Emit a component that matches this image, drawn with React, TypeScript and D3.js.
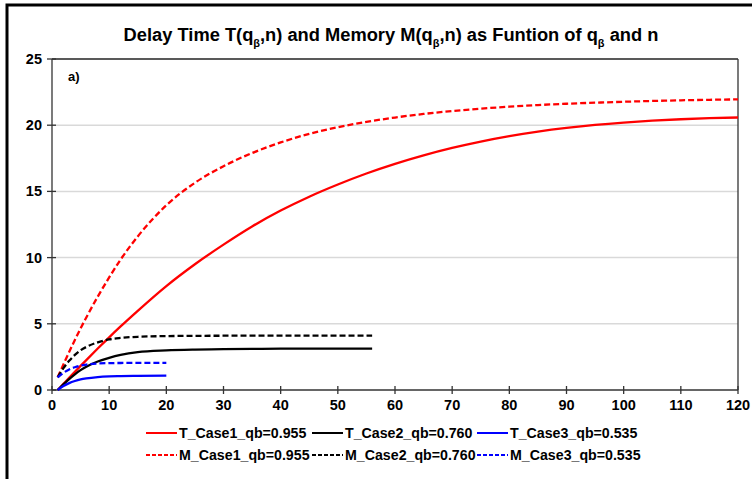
import React from "react";
import * as d3 from "d3";

// n values and series
const nLong = [1, 2, 3, 4, 5, 6, 8, 10, 12, 15, 20, 25, 30, 35, 40, 45, 50, 55, 60, 65, 70, 75, 80, 85, 90, 95, 100, 105, 110, 115, 120];
const tCase1 = [0, 0.46, 0.92, 1.37, 1.82, 2.26, 3.13, 3.98, 4.8, 5.98, 7.85, 9.5, 10.98, 12.35, 13.55, 14.6, 15.52, 16.35, 17.08, 17.72, 18.28, 18.76, 19.17, 19.51, 19.79, 20.02, 20.2, 20.34, 20.45, 20.53, 20.58];
const mCase1 = [0.97, 1.93, 2.87, 3.78, 4.65, 5.48, 7.05, 8.5, 9.85, 11.6, 13.95, 15.65, 16.9, 17.9, 18.7, 19.35, 19.85, 20.25, 20.58, 20.85, 21.07, 21.25, 21.4, 21.52, 21.62, 21.7, 21.77, 21.83, 21.88, 21.92, 21.95];

const nMid = [1, 2, 3, 4, 5, 6, 8, 10, 12, 15, 20, 25, 30, 35, 40, 45, 50, 56];
const tCase2 = [0, 0.42, 0.82, 1.18, 1.5, 1.76, 2.15, 2.43, 2.65, 2.86, 2.99, 3.05, 3.08, 3.1, 3.12, 3.13, 3.13, 3.13];
const mCase2 = [0.95, 1.65, 2.2, 2.65, 3.0, 3.25, 3.6, 3.82, 3.93, 4.02, 4.07, 4.09, 4.1, 4.11, 4.11, 4.11, 4.11, 4.11];

const nShort = [1, 2, 3, 4, 5, 6, 8, 10, 12, 15, 20];
const tCase3 = [0, 0.3, 0.52, 0.68, 0.8, 0.88, 0.98, 1.03, 1.05, 1.07, 1.08];
const mCase3 = [0.95, 1.3, 1.55, 1.72, 1.84, 1.92, 2.0, 2.03, 2.04, 2.05, 2.05];

const xTicks = [0, 10, 20, 30, 40, 50, 60, 70, 80, 90, 100, 110, 120];
const yTicks = [0, 5, 10, 15, 20, 25];

const series = [
  { name: "T_Case1_qb=0.955", n: nLong, v: tCase1, color: "#ff0000", dashed: false },
  { name: "T_Case2_qb=0.760", n: nMid, v: tCase2, color: "#000000", dashed: false },
  { name: "T_Case3_qb=0.535", n: nShort, v: tCase3, color: "#0000ff", dashed: false },
  { name: "M_Case1_qb=0.955", n: nLong, v: mCase1, color: "#ff0000", dashed: true },
  { name: "M_Case2_qb=0.760", n: nMid, v: mCase2, color: "#000000", dashed: true },
  { name: "M_Case3_qb=0.535", n: nShort, v: mCase3, color: "#0000ff", dashed: true },
];

const W = 752;
const H = 479;
const plot = { left: 52, right: 738, top: 59, bottom: 390 };
const font = "'Liberation Sans', Arial, sans-serif";

export default function App() {
  const x = d3.scaleLinear().domain([0, 120]).range([plot.left, plot.right]);
  const y = d3.scaleLinear().domain([0, 25]).range([plot.bottom, plot.top]);

  const line = d3
    .line<[number, number]>()
    .x((d) => x(d[0]))
    .y((d) => y(d[1]))
    .curve(d3.curveMonotoneX);

  const legendCols = [146, 312, 477];
  const legendRows = [433, 455];

  const sub = (
    <tspan baselineShift="sub" fontSize="11">
      β
    </tspan>
  );

  return (
    <svg
      width={W}
      height={H}
      style={{ position: "absolute", left: 0, top: 0, background: "#fff" }}
      fontFamily={font}
    >
      <rect x={0} y={0} width={W} height={H} fill="#fff" />
      {/* outer frame */}
      <rect x={7} y={5} width={W + 20} height={H + 20} fill="none" stroke="#000" strokeWidth={3} />

      {/* title */}
      <text x={391} y={41} textAnchor="middle" fontSize={18.3} fontWeight="bold" fill="#000">
        Delay Time T(q{sub}
        <tspan>,n) and Memory M(q</tspan>
        {sub}
        <tspan>,n) as Funtion of q</tspan>
        {sub}
        <tspan> and n</tspan>
      </text>

      {/* gridlines */}
      {yTicks.slice(1, -1).map((t) => (
        <line key={t} x1={plot.left} x2={plot.right} y1={y(t)} y2={y(t)} stroke="#d9d9d9" strokeWidth={1.5} />
      ))}
      {/* plot border top/right */}
      <line x1={plot.left} x2={plot.right} y1={plot.top} y2={plot.top} stroke="#222" strokeWidth={1.3} />
      <line x1={plot.right} x2={plot.right} y1={plot.top} y2={plot.bottom} stroke="#333" strokeWidth={1.3} />

      {/* axes */}
      <line x1={plot.left} x2={plot.left} y1={plot.top} y2={plot.bottom} stroke="#333" strokeWidth={1.3} />
      <line x1={plot.left} x2={plot.right} y1={plot.bottom} y2={plot.bottom} stroke="#333" strokeWidth={1.3} />
      {yTicks.map((t) => (
        <g key={t}>
          <line x1={plot.left - 5} x2={plot.left + 4} y1={y(t)} y2={y(t)} stroke="#333" strokeWidth={1.3} />
          <text x={plot.left - 10} y={y(t) + 5} textAnchor="end" fontSize={14.5} fontWeight="bold">
            {t}
          </text>
        </g>
      ))}
      {xTicks.map((t) => (
        <g key={t}>
          <line x1={x(t)} x2={x(t)} y1={plot.bottom - 4} y2={plot.bottom + 4} stroke="#333" strokeWidth={1.3} />
          <text x={x(t)} y={plot.bottom + 20} textAnchor="middle" fontSize={14.5} fontWeight="bold">
            {t}
          </text>
        </g>
      ))}

      <text x={68} y={81} fontSize={13} fontWeight="bold">
        a)
      </text>

      {/* curves */}
      {series.map((s) => (
        <path
          key={s.name}
          d={line(s.n.map((n, i) => [n, s.v[i]] as [number, number])) || ""}
          fill="none"
          stroke={s.color}
          strokeWidth={2.3}
          strokeDasharray={s.dashed ? "6,3" : undefined}
        />
      ))}

      {/* legend */}
      {series.map((s, i) => {
        const lx = legendCols[i % 3];
        const ly = legendRows[Math.floor(i / 3)];
        return (
          <g key={s.name}>
            <line
              x1={lx}
              x2={lx + 31}
              y1={ly}
              y2={ly}
              stroke={s.color}
              strokeWidth={2}
              strokeDasharray={s.dashed ? "4,2" : undefined}
            />
            <text x={lx + 33} y={ly + 5} fontSize={14.2} fontWeight="bold">
              {s.name}
            </text>
          </g>
        );
      })}
    </svg>
  );
}
